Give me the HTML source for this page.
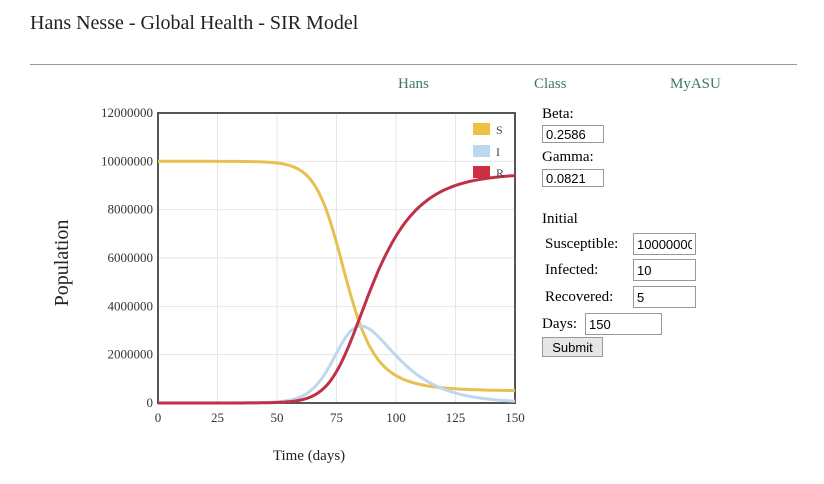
<!DOCTYPE html>
<html><head><meta charset="utf-8"><style>
body{margin:0;background:#fff;width:824px;height:484px;overflow:hidden;font-family:"Liberation Serif",serif;position:relative}
.a{position:absolute}
input{font-family:"Liberation Sans",sans-serif;font-size:13px;border:1px solid #999;padding:1px 3px;height:18px;box-sizing:border-box;position:absolute}
</style></head><body>
<div class="a" style="left:30px;top:12px;font-size:20px;color:#222">Hans Nesse - Global Health - SIR Model</div>
<div class="a" style="left:30px;top:64px;width:767px;height:1px;background:#999"></div>
<div class="a" style="left:398px;top:76px;font-size:15px;color:#3a7a5a">Hans</div>
<div class="a" style="left:534px;top:76px;font-size:15px;color:#3a7a5a">Class</div>
<div class="a" style="left:670px;top:76px;font-size:15px;color:#3a7a5a">MyASU</div>
<svg class="a" style="left:0;top:0" width="824" height="484" id="sv">
<g id="grid" stroke="#e6e6e6" stroke-width="1"></g>
<rect x="158" y="113" width="357" height="290" fill="none" stroke="#555" stroke-width="2"/>
<g id="lab" font-family="Liberation Serif" font-size="13" fill="#333"></g>
<g id="curves" fill="none" stroke-width="3"></g>
<rect x="473" y="123" width="17" height="12" fill="#f0c040"/><text x="496" y="134" font-size="12" fill="#444">S</text>
<rect x="473" y="145" width="17" height="12" fill="#bcd8ee"/><text x="496" y="156" font-size="12" fill="#444">I</text>
<rect x="473" y="166" width="17" height="12" fill="#cc3040"/><text x="496" y="177" font-size="12" fill="#444">R</text>
<text transform="translate(68,263) rotate(-90)" text-anchor="middle" font-size="20" fill="#222">Population</text>
<text x="309" y="460" text-anchor="middle" font-size="15" fill="#222">Time (days)</text>
</svg>
<div class="a" style="left:542px;top:106px;font-size:15px">Beta:</div>
<input style="left:542px;top:125px;width:62px" value="0.2586">
<div class="a" style="left:542px;top:149px;font-size:15px">Gamma:</div>
<input style="left:542px;top:169px;width:62px" value="0.0821">
<div class="a" style="left:542px;top:211px;font-size:15px">Initial</div>
<div class="a" style="left:545px;top:236px;font-size:15px">Susceptible:</div>
<input style="left:633px;top:233px;width:63px;height:22px;overflow:hidden" value="10000000">
<div class="a" style="left:545px;top:262px;font-size:15px">Infected:</div>
<input style="left:633px;top:259px;width:63px;height:22px" value="10">
<div class="a" style="left:545px;top:289px;font-size:15px">Recovered:</div>
<input style="left:633px;top:286px;width:63px;height:22px" value="5">
<div class="a" style="left:542px;top:316px;font-size:15px">Days:</div>
<input style="left:585px;top:313px;width:77px;height:22px" value="150">
<div class="a" style="left:542px;top:337px;width:61px;height:20px;border:1px solid #999;background:#e6e6e6;font-family:'Liberation Sans',sans-serif;font-size:13px;text-align:center;line-height:20px;box-sizing:border-box">Submit</div>
<script>
var X0=158,X1=515,Y0=403,Y1=113;
function px(t){return X0+(X1-X0)*t/150}
function py(v){return Y0-(Y0-Y1)*v/12e6}
var ns="http://www.w3.org/2000/svg",g=document.getElementById('grid'),l=document.getElementById('lab');
function el(p,n,a,t){var e=document.createElementNS(ns,n);for(var k in a)e.setAttribute(k,a[k]);if(t)e.textContent=t;p.appendChild(e);return e}
for(var v=0;v<=12e6;v+=2e6){el(g,'line',{x1:X0,x2:X1,y1:py(v),y2:py(v)});el(l,'text',{x:153,y:py(v)+4,'text-anchor':'end'},String(v))}
for(var t=0;t<=150;t+=25){el(g,'line',{x1:px(t),x2:px(t),y1:Y1,y2:Y0});el(l,'text',{x:px(t),y:422,'text-anchor':'middle'},String(t))}
var b=0.2586,gm=0.0821,N=1e7,S=1e7,I=7,R=5,dt=0.01,ps=[],pi=[],pr=[];
for(var i=0;i<=15000;i++){var tt=i*dt;if(i%50==0){ps.push(px(tt).toFixed(1)+','+py(S).toFixed(1));pi.push(px(tt).toFixed(1)+','+py(I).toFixed(1));pr.push(px(tt).toFixed(1)+','+py(R).toFixed(1))}
var inf=b*S*I/N*dt,rec=gm*I*dt;S-=inf;I+=inf-rec;R+=rec}
var c=document.getElementById('curves');
el(c,'polyline',{points:ps.join(' '),stroke:'#e8c050'});
el(c,'polyline',{points:pi.join(' '),stroke:'#bcd8ee'});
el(c,'polyline',{points:pr.join(' '),stroke:'#c03048'});
</script>
</body></html>
